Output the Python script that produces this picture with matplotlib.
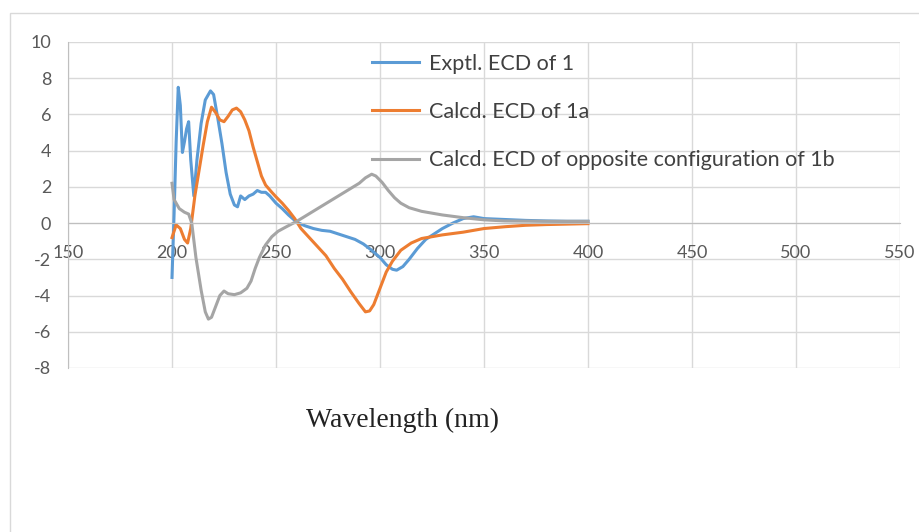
import matplotlib
matplotlib.use('Agg')
import matplotlib.pyplot as plt
from matplotlib.patches import Rectangle

plt.rcParams['axes.unicode_minus'] = False

# Exptl. ECD of 1
exp_x = [200, 201, 202, 203, 204, 205, 206, 207, 208, 209, 210.5, 212, 214, 216, 218.5, 220,
         222, 224, 226, 228, 230, 231.5, 233, 235, 237, 239, 241, 243, 245, 247, 250, 253, 256,
         260, 264, 268, 272, 276, 280, 284, 288, 292, 296, 300, 303, 306, 308, 311, 314, 318,
         322, 326, 330, 335, 340, 345, 350, 360, 370, 380, 390, 400]
exp_y = [-3.0, 0.5, 4.5, 7.5, 6.5, 3.9, 4.5, 5.2, 5.6, 3.5, 1.5, 3.5, 5.5, 6.8, 7.3, 7.1,
         5.8, 4.4, 2.8, 1.6, 1.0, 0.9, 1.5, 1.3, 1.5, 1.6, 1.8, 1.7, 1.7, 1.5, 1.1, 0.8, 0.45,
         0.05, -0.15, -0.3, -0.4, -0.45, -0.6, -0.75, -0.9, -1.15, -1.5, -1.9, -2.3, -2.55, -2.6,
         -2.4, -2.0, -1.4, -0.9, -0.6, -0.3, 0.0, 0.25, 0.35, 0.25, 0.2, 0.15, 0.12, 0.1, 0.1]

# Calcd. ECD of 1a
calc_x = [200, 202, 204, 206, 207.5, 209, 211, 213, 215, 217, 219, 221, 223, 225, 227, 229,
          231, 233, 235, 237, 239, 241, 243, 245, 248, 250, 253, 256, 259, 262, 266, 270, 274,
          278, 282, 286, 290, 293, 295, 297, 300, 303, 306, 310, 315, 320, 330, 340, 350, 360,
          370, 380, 400]
calc_y = [-0.8, -0.1, -0.3, -0.9, -1.1, -0.3, 1.5, 2.9, 4.3, 5.6, 6.4, 6.1, 5.7, 5.6, 5.9, 6.25,
          6.35, 6.15, 5.7, 5.1, 4.2, 3.4, 2.6, 2.1, 1.7, 1.45, 1.1, 0.7, 0.25, -0.3, -0.8, -1.3,
          -1.8, -2.5, -3.1, -3.8, -4.45, -4.9, -4.85, -4.5, -3.6, -2.7, -2.1, -1.5, -1.1, -0.85,
          -0.65, -0.5, -0.3, -0.2, -0.12, -0.08, -0.03]

# Calcd. ECD of opposite configuration of 1b
opp_x = [200, 201, 203.5, 206, 208, 209.5, 211.5, 214, 216, 217.5, 219, 221, 223, 225, 227,
         230, 233, 236, 238, 240, 242, 245, 248, 251, 255, 260, 265, 270, 275, 280, 285, 290,
         293, 296, 298, 301, 304, 307, 310, 314, 320, 330, 340, 350, 360, 380, 400]
opp_y = [2.2, 1.3, 0.8, 0.6, 0.5, 0.0, -1.9, -3.7, -4.9, -5.3, -5.2, -4.6, -4.0, -3.75, -3.9,
         -3.95, -3.85, -3.6, -3.2, -2.5, -1.9, -1.2, -0.75, -0.45, -0.2, 0.1, 0.45, 0.8, 1.15,
         1.5, 1.85, 2.2, 2.5, 2.7, 2.6, 2.25, 1.8, 1.4, 1.1, 0.85, 0.65, 0.45, 0.3, 0.18, 0.12,
         0.1, 0.1]

x_ticks = [150, 200, 250, 300, 350, 400, 450, 500, 550]
y_ticks = [-8, -6, -4, -2, 0, 2, 4, 6, 8, 10]

W, H = 919, 532
fig = plt.figure(figsize=(W / 100, H / 100), dpi=100)
ax = fig.add_axes([68 / W, 1 - 368 / H, (900 - 68) / W, (368 - 42) / H])

ax.plot(exp_x, exp_y, color='#5b9bd5', lw=2.2, label='Exptl. ECD of 1')
ax.plot(calc_x, calc_y, color='#ed7d31', lw=2.2, label='Calcd. ECD of 1a')
ax.plot(opp_x, opp_y, color='#a5a5a5', lw=2.2, label='Calcd. ECD of opposite configuration of 1b')

ax.set_xlim(150, 550)
ax.set_ylim(-8, 10)
ax.set_xticks(x_ticks)
ax.set_yticks(y_ticks)
ax.grid(True, color='#d9d9d9', lw=1)
ax.set_axisbelow(True)

for s in ['top', 'right']:
    ax.spines[s].set_visible(False)
ax.spines['bottom'].set_position(('data', 0))
ax.spines['bottom'].set_color('#bfbfbf')
ax.spines['left'].set_color('#bfbfbf')
ax.tick_params(length=0, labelsize=13, labelcolor='#595959')
ax.tick_params(axis='x', pad=16)
ax.tick_params(axis='y', pad=12)
for lab in ax.get_xticklabels() + ax.get_yticklabels():
    lab.set_family('Lato')

leg = ax.legend(loc='upper left', bbox_to_anchor=(361 / W, 1 - 43 / H),
                bbox_transform=fig.transFigure, frameon=False, borderpad=0,
                prop={'family': 'Lato', 'size': 15.5}, handlelength=2.2,
                handletextpad=0.45, labelspacing=1.31)
for t in leg.get_texts():
    t.set_color('#404040')

fig.text(403 / W, 1 - 420 / H, 'Wavelength (nm)', family='Liberation Serif',
         fontsize=20, ha='center', va='center', color='#222222')

fig.patches.append(Rectangle((10 / W, -0.1), 1.2, 1 - 13 / H + 0.1, transform=fig.transFigure,
                             fill=False, edgecolor='#d9d9d9', lw=1))

fig.savefig('out.png', dpi=100)
